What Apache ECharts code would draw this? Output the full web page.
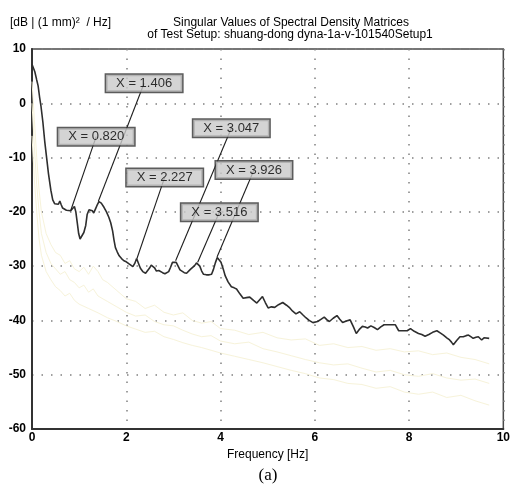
<!DOCTYPE html>
<html>
<head>
<meta charset="utf-8">
<script src="https://cdn.jsdelivr.net/npm/echarts@6/dist/echarts.min.js"></script>
<style>html,body{margin:0;padding:0;background:#fff;}#c{width:513px;height:484px;}</style>
</head>
<body>
<div id="c"></div>
<script>
// ---- data ----
const xTicks = [0, 2, 4, 6, 8, 10];
const yTicks = [10, 0, -10, -20, -30, -40, -50, -60];

// first singular value [frequency Hz, dB]
const sv1 = [[0.00,7.2],[0.03,6.5],[0.06,5.8],[0.10,4.3],[0.13,3.2],[0.16,1.2],[0.19,-0.5],[0.23,-3.4],[0.27,-7.0],[0.31,-10.0],[0.35,-13.0],[0.40,-16.0],[0.44,-17.8],[0.48,-18.5],[0.52,-18.8],[0.56,-18.6],[0.59,-18.0],[0.62,-18.7],[0.65,-19.3],[0.69,-19.0],[0.73,-19.7],[0.77,-19.9],[0.82,-19.8],[0.86,-19.5],[0.90,-19.0],[0.93,-20.0],[0.96,-22.0],[0.99,-24.0],[1.02,-25.0],[1.06,-24.9],[1.10,-23.8],[1.14,-22.5],[1.17,-20.5],[1.21,-19.6],[1.25,-19.3],[1.28,-19.8],[1.31,-20.2],[1.35,-19.4],[1.39,-18.6],[1.42,-18.1],[1.47,-18.4],[1.53,-19.2],[1.58,-20.0],[1.63,-21.0],[1.67,-22.0],[1.71,-23.5],[1.74,-25.2],[1.77,-26.6],[1.81,-27.4],[1.85,-28.1],[1.90,-28.6],[1.95,-29.0],[2.00,-29.2],[2.06,-29.6],[2.10,-29.9],[2.14,-30.1],[2.18,-29.5],[2.22,-28.6],[2.26,-29.5],[2.30,-30.4],[2.35,-31.0],[2.41,-31.3],[2.45,-31.0],[2.49,-30.4],[2.53,-29.8],[2.57,-29.6],[2.60,-30.3],[2.64,-30.9],[2.69,-30.8],[2.73,-31.0],[2.77,-31.2],[2.82,-31.4],[2.86,-31.6],[2.90,-31.0],[2.94,-30.2],[2.98,-29.3],[3.02,-29.0],[3.06,-29.3],[3.10,-30.0],[3.14,-30.7],[3.18,-31.0],[3.23,-31.2],[3.28,-31.3],[3.32,-31.0],[3.36,-30.6],[3.40,-30.3],[3.45,-29.9],[3.49,-29.4],[3.52,-29.3],[3.56,-30.0],[3.60,-30.9],[3.64,-31.5],[3.70,-31.6],[3.76,-31.6],[3.81,-31.5],[3.85,-30.6],[3.89,-29.4],[3.93,-28.4],[3.97,-28.3],[4.01,-29.3],[4.06,-30.6],[4.10,-31.8],[4.16,-32.9],[4.23,-33.8],[4.29,-34.0],[4.34,-34.2],[4.41,-35.1],[4.48,-35.9],[4.55,-35.8],[4.62,-35.7],[4.70,-36.3],[4.77,-36.8],[4.83,-36.2],[4.89,-35.6],[4.95,-36.7],[5.01,-37.7],[5.08,-37.5],[5.15,-37.6],[5.23,-37.1],[5.32,-36.7],[5.40,-37.2],[5.47,-37.7],[5.53,-38.3],[5.60,-38.8],[5.68,-38.4],[5.75,-39.0],[5.81,-39.5],[5.88,-40.0],[5.96,-40.4],[6.06,-40.2],[6.13,-39.8],[6.20,-39.4],[6.26,-39.9],[6.31,-40.2],[6.39,-39.6],[6.47,-39.1],[6.53,-39.8],[6.59,-40.4],[6.67,-40.1],[6.75,-39.9],[6.82,-41.2],[6.88,-42.4],[6.94,-41.7],[7.01,-41.1],[7.07,-41.2],[7.12,-41.4],[7.19,-41.0],[7.26,-41.3],[7.33,-41.7],[7.40,-41.2],[7.47,-40.8],[7.59,-40.8],[7.71,-40.8],[7.78,-41.9],[7.87,-41.9],[7.96,-41.9],[8.03,-41.5],[8.11,-42.0],[8.20,-42.4],[8.27,-42.6],[8.34,-42.9],[8.42,-42.6],[8.50,-42.2],[8.59,-41.9],[8.66,-42.3],[8.73,-42.7],[8.80,-43.2],[8.86,-43.6],[8.90,-44.0],[8.94,-44.5],[9.01,-43.7],[9.08,-43.0],[9.15,-43.0],[9.21,-42.8],[9.26,-42.7],[9.31,-43.0],[9.36,-43.3],[9.42,-43.1],[9.47,-43.0],[9.54,-43.6],[9.59,-43.2],[9.63,-43.0],[9.70,-43.3]];

// faint higher-order singular values
const sv2 = [[0,4],[0.05,-3],[0.1,-10],[0.15,-16],[0.2,-20],[0.3,-24],[0.4,-26],[0.5,-27.5],[0.6,-28],[0.7,-29.5],[0.8,-29],[0.9,-30.5],[1.0,-31],[1.1,-30.2],[1.2,-31.5],[1.3,-30],[1.4,-31],[1.5,-32.5],[1.6,-33],[1.8,-34.5],[2.0,-36],[2.2,-36.5],[2.4,-37.8],[2.6,-37.2],[2.8,-38.5],[3.0,-39],[3.2,-38.6],[3.4,-40],[3.6,-40.5],[3.8,-40.2],[4.0,-41.5],[4.3,-41.8],[4.6,-42.6],[4.9,-42.2],[5.2,-43.2],[5.5,-43.6],[5.8,-43.4],[6.1,-44.6],[6.4,-44.3],[6.7,-45.0],[7.0,-44.8],[7.3,-45.5],[7.6,-45.2],[7.9,-45.8],[8.2,-45.6],[8.5,-46.3],[8.8,-46.0],[9.1,-46.8],[9.4,-47.2],[9.7,-48.0]];
const sv3 = [[0,0],[0.05,-8],[0.1,-15],[0.15,-20],[0.2,-24],[0.3,-27.5],[0.4,-29.5],[0.5,-30.5],[0.6,-31.5],[0.7,-31],[0.8,-32.5],[0.9,-33],[1.0,-34],[1.1,-33.5],[1.2,-34.8],[1.3,-34.2],[1.4,-35.5],[1.6,-36.5],[1.8,-37.5],[2.0,-38.5],[2.2,-39.2],[2.4,-39],[2.6,-40.2],[2.8,-40.8],[3.0,-41],[3.2,-41.8],[3.4,-42.5],[3.6,-43],[3.8,-42.8],[4.0,-43.8],[4.3,-44.3],[4.6,-44.0],[4.9,-45.2],[5.2,-45.8],[5.5,-46.5],[5.8,-47.2],[6.1,-47.8],[6.4,-48.2],[6.7,-48.0],[7.0,-48.8],[7.3,-49.5],[7.6,-49.2],[7.9,-50],[8.2,-50.3],[8.5,-49.8],[8.8,-50.6],[9.1,-51],[9.4,-50.8],[9.7,-51.6]];
const sv4 = [[0,-6],[0.05,-14],[0.1,-20],[0.15,-25],[0.2,-28],[0.3,-31],[0.4,-32.5],[0.5,-33.8],[0.6,-34.5],[0.7,-35.5],[0.8,-35],[0.9,-36.3],[1.0,-37],[1.2,-37.8],[1.4,-38.6],[1.6,-39.5],[1.8,-40.2],[2.0,-41],[2.2,-41.6],[2.4,-42.2],[2.6,-42],[2.8,-43],[3.0,-43.5],[3.2,-44.1],[3.4,-44.6],[3.6,-45],[3.8,-45.5],[4.0,-46],[4.3,-46.6],[4.6,-47.2],[4.9,-47.8],[5.2,-48.5],[5.5,-49.2],[5.8,-49.8],[6.1,-50.6],[6.4,-50.9],[6.7,-51.6],[7.0,-51.8],[7.3,-52.5],[7.6,-52.2],[7.9,-53.2],[8.2,-53.6],[8.5,-53.2],[8.8,-54.2],[9.1,-53.8],[9.4,-54.8],[9.7,-55.6]];

// picked peaks
const peakFreq = [0.820, 1.406, 2.227, 3.047, 3.516, 3.926];
const peakDb   = [-19.8, -18.1, -28.6, -29.0, -29.3, -28.3];
// annotation box anchors (data units)
const boxFreq  = [1.362, 2.379, 2.815, 4.229, 3.975, 4.709];
const boxDb    = [-6.15, 3.68, -13.66, -4.6, -20.07, -12.28];

// ---- chart ----
const FONT = '"Liberation Sans", Arial, sans-serif';
const chart = echarts.init(document.getElementById('c'), null, {renderer: 'canvas'});

const leaders = peakFreq.map((f, i) => [
  {coord: [f, peakDb[i]]},
  {coord: [boxFreq[i], boxDb[i]]}
]);
const boxes = peakFreq.map((f, i) => ({
  value: [boxFreq[i], boxDb[i]],
  name: 'X = ' + f.toFixed(3)
}));

const faint = (d) => ({
  type: 'line', data: d, showSymbol: false, symbol: 'none', silent: true,
  lineStyle: {color: '#f7f3da', width: 1}, z: 1
});

chart.setOption({
  animation: false,
  backgroundColor: '#fff',
  grid: {left: 32, right: 6, top: 49, bottom: 55, show: true,
         borderColor: '#4a4a4a', borderWidth: 1.5, backgroundColor: 'transparent'},
  xAxis: {
    type: 'value', min: 0, max: 10, interval: 2,
    axisLine: {show: true, onZero: false, lineStyle: {color: '#333', width: 2}},
    axisTick: {show: false},
    splitLine: {show: true, lineStyle: {color: '#808080', width: 1.5, type: [1.5, 8]}},
    axisLabel: {margin: 3, color: '#000', fontFamily: FONT, fontSize: 12, fontWeight: 'bold',
                formatter: v => xTicks.includes(v) ? String(v) : ''},
    name: 'Frequency [Hz]', nameLocation: 'middle', nameGap: 19,
    nameTextStyle: {color: '#000', fontFamily: FONT, fontSize: 12}
  },
  yAxis: {
    type: 'value', min: -60, max: 10, interval: 10,
    axisLine: {show: true, onZero: false, lineStyle: {color: '#333', width: 2}},
    axisTick: {show: false},
    splitLine: {show: true, lineStyle: {color: '#808080', width: 1.5, type: [1.5, 8]}},
    axisLabel: {margin: 6, color: '#000', fontFamily: FONT, fontSize: 12, fontWeight: 'bold',
                formatter: v => yTicks.includes(v) ? String(v) : ''}
  },
  graphic: [
    {type: 'text', left: 10, top: 17, style: {text: '[dB | (1 mm)\u00B2  / Hz]', font: '12px ' + FONT, fill: '#000'}},
    {type: 'text', x: 291, y: 23, style: {text: 'Singular Values of Spectral Density Matrices', font: '12px ' + FONT, fill: '#000', textAlign: 'center', textVerticalAlign: 'middle'}},
    {type: 'text', x: 290, y: 35, style: {text: 'of Test Setup: shuang-dong dyna-1a-v-101540Setup1', font: '12px ' + FONT, fill: '#000', textAlign: 'center', textVerticalAlign: 'middle'}},
    {type: 'text', x: 268, y: 476, style: {text: '(a)', font: '17px "Liberation Serif", "Times New Roman", serif', fill: '#000', textAlign: 'center', textVerticalAlign: 'middle'}}
  ],
  series: [
    faint(sv4), faint(sv3), faint(sv2),
    {
      type: 'line', data: sv1, showSymbol: false, symbol: 'none', silent: true,
      lineStyle: {color: '#2e2e2e', width: 1.6}, z: 3,
      markLine: {
        silent: true, symbol: ['none', 'none'], animation: false,
        label: {show: false},
        lineStyle: {color: '#1e1e1e', width: 1.1, type: 'solid'},
        emphasis: {disabled: true},
        data: leaders
      }
    },
    {
      type: 'scatter', data: boxes, symbolSize: 1, silent: true, z: 10,
      itemStyle: {color: 'rgba(0,0,0,0)'},
      label: {
        show: true, position: 'inside', formatter: '{b}',
        fontFamily: FONT, fontSize: 13, color: '#000',
        backgroundColor: '#c9c9c9', borderColor: '#333', borderWidth: 1.5,
        padding: [2, 10, 1, 10], lineHeight: 14
      }
    }
  ]
});
</script>
</body>
</html>
